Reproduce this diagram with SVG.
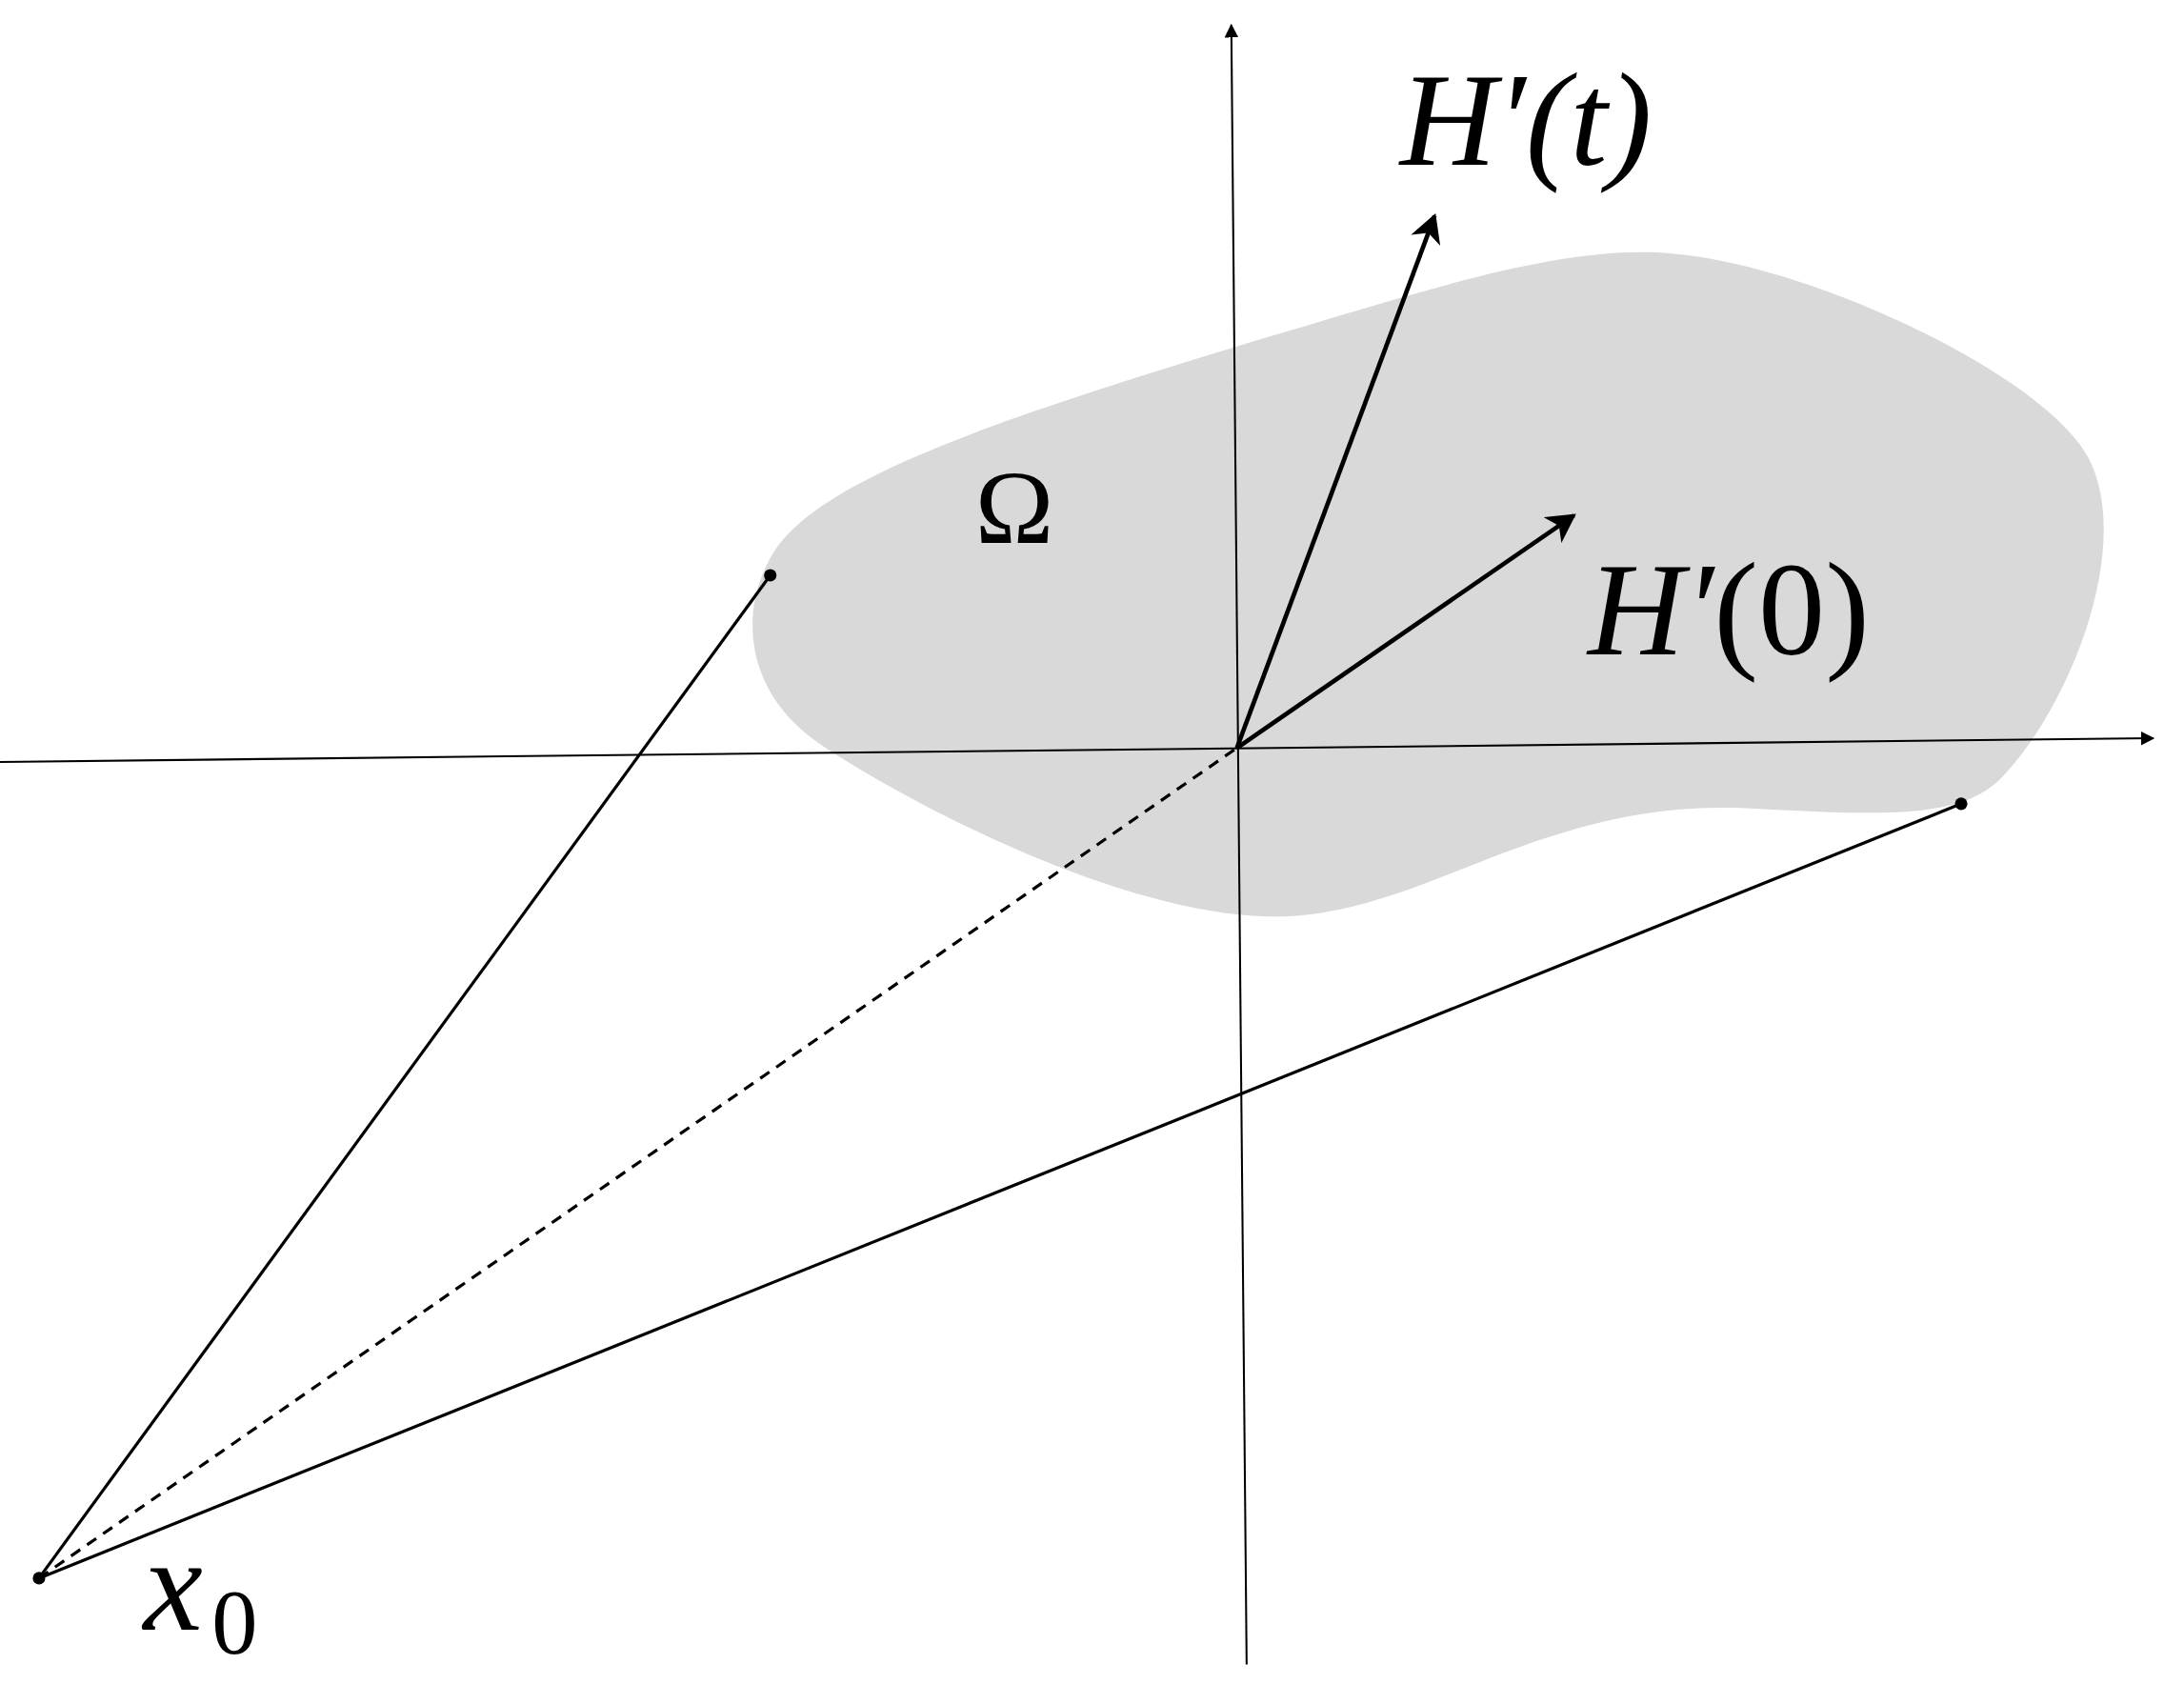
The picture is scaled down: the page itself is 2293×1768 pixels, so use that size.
<svg xmlns="http://www.w3.org/2000/svg" width="2293" height="1768" viewBox="0 0 2293 1768">
<defs>
<style>
.ax{stroke:#000;stroke-width:1.4;fill:none}
.ln{stroke:#000;stroke-width:2.2;fill:none}
.ar{stroke:#000;stroke-width:3.2;fill:none}
.t{font-family:"Liberation Serif","DejaVu Serif",serif;fill:#000}
</style>
<marker id="tri" viewBox="0 0 10 10" refX="9" refY="5" markerWidth="10" markerHeight="10" markerUnits="userSpaceOnUse" orient="auto"><path d="M0,0 L10,5 L0,10 z"/></marker>
<marker id="open" viewBox="0 0 12 12" refX="10" refY="6" markerWidth="7" markerHeight="7" orient="auto"><path d="M0,0 L11,6 L0,12 L3,6 z"/></marker>
</defs>
<g transform="scale(1.4624)">
<g id="omega-region"><path fill="#d9d9d9" d="M 560,390 C 600,340 720,300 900,245 C 1020,210 1120,175 1200,182 C 1300,190 1470,270 1500,330 C 1530,390 1490,500 1440,555 C 1410,590 1350,585 1250,580 C 1100,575 1020,660 910,658 C 800,655 650,575 590,535 C 530,495 530,430 560,390 Z"/></g>
<g id="connectors">
<line class="ax" x1="0" y1="547" x2="1546" y2="530" marker-end="url(#tri)"/>
<line class="ax" x1="895" y1="1195" x2="884" y2="18" marker-end="url(#tri)"/>
<line class="ln" x1="28" y1="1133" x2="553" y2="413"/>
<line class="ln" x1="28" y1="1133" x2="1408" y2="577"/>
<line class="ln" x1="28" y1="1133" x2="888" y2="537" stroke-dasharray="8,6"/>
<line class="ar" x1="888" y1="537" x2="1030" y2="155" marker-end="url(#open)"/>
<line class="ar" x1="888" y1="537" x2="1130" y2="370" marker-end="url(#open)"/>
</g>
<g id="points"><circle cx="553" cy="413" r="4.5"/><circle cx="1408" cy="577" r="4.5"/><circle cx="28" cy="1133" r="4.5"/></g>
<g id="labels">
<text class="t" x="1005" y="118" font-size="96" font-style="italic">H′(t)</text>
<text class="t" x="1140" y="470" font-size="96"><tspan font-style="italic">H′</tspan>(0)</text>
<text class="t" x="700" y="390" font-size="76">Ω</text>
<text class="t" x="103" y="1170" font-size="96" font-style="italic">x</text>
<text class="t" x="152" y="1187" font-size="66">0</text>
</g>
</g>
</svg>
